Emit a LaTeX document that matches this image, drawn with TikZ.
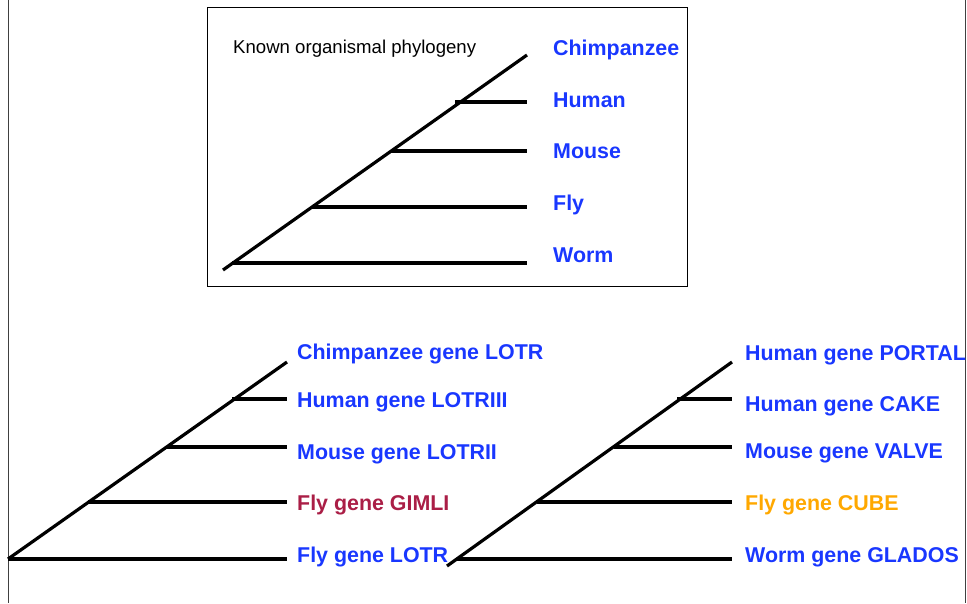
\documentclass[tikz,border=0pt]{standalone}
\usepackage{fontspec}
\setmainfont{Liberation Sans}
\definecolor{lblblue}{RGB}{25,55,255}
\definecolor{lblmaroon}{RGB}{170,30,70}
\definecolor{lblorange}{RGB}{255,168,0}
\begin{document}
\begin{tikzpicture}[x=1pt,y=-1pt,
  branch/.style={line width=3.2pt},
  frame/.style={line width=1pt},
  lbl/.style={anchor=base west, inner sep=0pt, text=lblblue, font=\bfseries\fontsize{21.4}{21.4}\selectfont},
  ttl/.style={anchor=base west, inner sep=0pt, font=\fontsize{18.6}{18.6}\selectfont}]
\useasboundingbox (0,0) rectangle (967,603);
% page side lines
\draw[frame, black!75] (8,0) -- (8,603);
\draw[frame, black!75] (965,0) -- (965,603);
% top box
\draw[frame] (207,7) rectangle (687,286);
\node[ttl] (title) at (233,53) {Known organismal phylogeny};
% top tree
\coordinate (tRoot) at (223,270);
\coordinate (tTop) at (527,55);
\draw[branch] (tRoot) -- (tTop);
\coordinate (tWa) at (232,263); \coordinate (tWb) at (527,263);
\coordinate (tFa) at (312,207); \coordinate (tFb) at (527,207);
\coordinate (tMa) at (391,151); \coordinate (tMb) at (527,151);
\coordinate (tHa) at (455,102); \coordinate (tHb) at (527,102);
\draw[branch] (tWa) -- (tWb);
\draw[branch] (tFa) -- (tFb);
\draw[branch] (tMa) -- (tMb);
\draw[branch] (tHa) -- (tHb);
\node[lbl] (tC) at (553,55) {Chimpanzee};
\node[lbl] (tH) at (553,107) {Human};
\node[lbl] (tM) at (553,158) {Mouse};
\node[lbl] (tF) at (553,210) {Fly};
\node[lbl] (tW) at (553,262) {Worm};
% bottom-left tree
\coordinate (lRoot) at (8,559);
\coordinate (lTop) at (287,362);
\draw[branch] (lRoot) -- (lTop);
\coordinate (lLb) at (287,559);
\coordinate (lGa) at (88,502); \coordinate (lGb) at (287,502);
\coordinate (lMa) at (167,447); \coordinate (lMb) at (287,447);
\coordinate (lHa) at (232,399); \coordinate (lHb) at (287,399);
\draw[branch] (lRoot) -- (lLb);
\draw[branch] (lGa) -- (lGb);
\draw[branch] (lMa) -- (lMb);
\draw[branch] (lHa) -- (lHb);
\node[lbl] (lC) at (297,359) {Chimpanzee gene LOTR};
\node[lbl] (lH) at (297,407) {Human gene LOTRIII};
\node[lbl] (lM) at (297,459) {Mouse gene LOTRII};
\node[lbl, text=lblmaroon] (lG) at (297,510) {Fly gene GIMLI};
\node[lbl] (lL) at (297,562) {Fly gene LOTR};
% bottom-right tree
\coordinate (rRoot) at (447,566);
\coordinate (rTop) at (732,362);
\draw[branch] (rRoot) -- (rTop);
\coordinate (rWa) at (457,559); \coordinate (rWb) at (732,559);
\coordinate (rCa) at (537,502); \coordinate (rCb) at (732,502);
\coordinate (rVa) at (614,447); \coordinate (rVb) at (732,447);
\coordinate (rKa) at (677,399); \coordinate (rKb) at (732,399);
\draw[branch] (rWa) -- (rWb);
\draw[branch] (rCa) -- (rCb);
\draw[branch] (rVa) -- (rVb);
\draw[branch] (rKa) -- (rKb);
\node[lbl] (rP) at (745,360) {Human gene PORTAL};
\node[lbl] (rK) at (745,411) {Human gene CAKE};
\node[lbl] (rV) at (745,458) {Mouse gene VALVE};
\node[lbl, text=lblorange] (rC) at (745,510) {Fly gene CUBE};
\node[lbl] (rG) at (745,562) {Worm gene GLADOS};
\end{tikzpicture}
\end{document}
